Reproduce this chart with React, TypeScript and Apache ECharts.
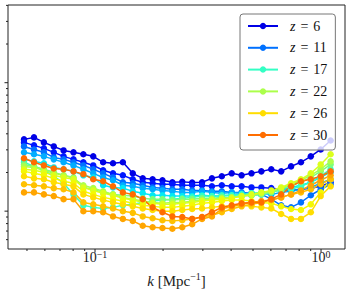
import React, { useEffect, useRef } from "react";
import * as echarts from "echarts";

// wavenumbers k [Mpc^-1]
const kValues = [0.0485, 0.0537, 0.0594, 0.0657, 0.0726, 0.0803, 0.0888, 0.0982, 0.1086, 0.1201, 0.1328, 0.1469, 0.1626, 0.1798, 0.1988, 0.2199, 0.2432, 0.269, 0.2975, 0.329, 0.3639, 0.4025, 0.4452, 0.4924, 0.5445, 0.6022, 0.6661, 0.7367, 0.8147, 0.901, 0.9965, 1.1022];

const redshifts = [6, 8, 11, 13, 15, 17, 20, 22, 24, 25, 26, 27, 28, 30];
const legendRedshifts = [6, 11, 17, 22, 26, 30];

const pZ6 = [3.62, 3.75, 3.43, 3.19, 2.97, 2.87, 2.77, 2.67, 2.4, 2.36, 2.4, 1.97, 1.8, 1.77, 1.74, 1.68, 1.69, 1.67, 1.68, 1.8, 1.87, 1.97, 1.9, 1.97, 2.04, 2.12, 2.04, 2.23, 2.4, 2.67, 3.02, 3.55];
const pZ8 = [3.43, 3.25, 3.08, 2.87, 2.67, 2.53, 2.4, 2.27, 2.08, 1.97, 1.9, 1.77, 1.68, 1.65, 1.62, 1.62, 1.59, 1.59, 1.59, 1.56, 1.59, 1.56, 1.56, 1.53, 1.53, 1.51, 1.48, 1.45, 1.48, 1.51, 1.56, 1.68];
const pZ11 = [3.19, 3.02, 2.87, 2.62, 2.53, 2.4, 2.27, 2.12, 1.97, 1.83, 1.68, 1.65, 1.59, 1.53, 1.51, 1.48, 1.48, 1.45, 1.45, 1.43, 1.43, 1.4, 1.4, 1.38, 1.35, 1.24, 1.11, 1.07, 1.17, 1.33, 1.48, 1.62];
const pZ13 = [2.87, 2.77, 2.67, 2.53, 2.4, 2.27, 2.12, 1.97, 1.83, 1.74, 1.59, 1.56, 1.51, 1.48, 1.45, 1.43, 1.4, 1.4, 1.43, 1.4, 1.38, 1.4, 1.38, 1.35, 1.38, 1.35, 1.4, 1.43, 1.48, 1.53, 1.65, 1.77];
const pZ15 = [2.53, 2.44, 2.36, 2.19, 2.12, 2.04, 1.9, 1.83, 1.59, 1.53, 1.51, 1.43, 1.38, 1.33, 1.33, 1.31, 1.31, 1.31, 1.33, 1.31, 1.31, 1.33, 1.35, 1.33, 1.35, 1.4, 1.48, 1.53, 1.59, 1.68, 1.83, 2.01];
const pZ17 = [2.4, 2.23, 2.08, 1.87, 1.65, 1.35, 1.11, 1.07, 1.05, 1.07, 1.11, 1.13, 1.17, 1.2, 1.22, 1.24, 1.26, 1.28, 1.31, 1.31, 1.33, 1.33, 1.35, 1.38, 1.4, 1.43, 1.45, 1.48, 1.56, 1.68, 1.87, 2.12];
const pZ20 = [2.31, 2.23, 2.12, 2.01, 1.9, 1.83, 1.53, 1.48, 1.4, 1.35, 1.33, 1.31, 1.26, 1.24, 1.24, 1.22, 1.24, 1.24, 1.26, 1.26, 1.28, 1.28, 1.31, 1.33, 1.35, 1.4, 1.48, 1.59, 1.68, 1.83, 2.04, 2.31];
const pZ22 = [2.23, 2.19, 2.08, 1.97, 1.9, 1.8, 1.59, 1.51, 1.43, 1.35, 1.28, 1.24, 1.2, 1.17, 1.15, 1.17, 1.17, 1.2, 1.22, 1.24, 1.26, 1.28, 1.31, 1.33, 1.38, 1.43, 1.51, 1.62, 1.74, 1.9, 2.12, 2.44];
const pZ24 = [2.12, 2.08, 2.01, 1.9, 1.83, 1.77, 1.53, 1.45, 1.38, 1.33, 1.26, 1.22, 1.17, 1.15, 1.13, 1.13, 1.15, 1.17, 1.2, 1.22, 1.24, 1.26, 1.31, 1.35, 1.4, 1.45, 1.53, 1.65, 1.77, 1.97, 2.31, 2.77];
const pZ25 = [2.04, 1.97, 1.9, 1.8, 1.71, 1.65, 1.43, 1.35, 1.28, 1.24, 1.2, 1.15, 1.11, 1.09, 1.07, 1.07, 1.09, 1.11, 1.15, 1.17, 1.2, 1.22, 1.22, 1.2, 1.17, 1.15, 1.09, 1.04, 1.02, 1.13, 1.4, 1.77];
const pZ26 = [1.87, 1.8, 1.77, 1.68, 1.62, 1.56, 1.35, 1.28, 1.22, 1.17, 1.13, 1.09, 1.05, 1.02, 1.0, 1.0, 1.02, 1.04, 1.05, 1.07, 1.09, 1.09, 1.11, 1.09, 1.07, 1.05, 0.95, 0.87, 0.87, 0.98, 1.31, 1.56];
const pZ27 = [1.62, 1.59, 1.56, 1.51, 1.48, 1.4, 1.17, 1.13, 1.09, 1.05, 1.0, 0.97, 0.91, 0.88, 0.85, 0.84, 0.85, 0.87, 0.9, 0.93, 0.98, 1.04, 1.09, 1.13, 1.17, 1.22, 1.28, 1.35, 1.4, 1.48, 1.62, 1.77];
const pZ28 = [1.4, 1.4, 1.35, 1.31, 1.24, 1.24, 1.0, 1.0, 0.98, 0.91, 0.87, 0.84, 0.77, 0.75, 0.74, 0.73, 0.75, 0.79, 0.87, 0.91, 1.04, 1.09, 1.13, 1.17, 1.2, 1.22, 1.28, 1.35, 1.45, 1.59, 1.74, 1.9];
const pZ30 = [2.58, 2.4, 2.27, 2.15, 2.12, 2.04, 1.94, 1.77, 1.71, 1.56, 1.4, 1.35, 1.24, 1.07, 0.98, 0.91, 0.9, 0.87, 0.9, 0.98, 1.07, 1.11, 1.15, 1.17, 1.17, 1.24, 1.35, 1.56, 1.71, 1.77, 1.87, 2.04];

const seriesValues = [pZ6, pZ8, pZ11, pZ13, pZ15, pZ17, pZ20, pZ22, pZ24, pZ25, pZ26, pZ27, pZ28, pZ30];

const X_MIN = 0.04121;
const X_MAX = 1.2764;
const Y_MIN = 0.5074;
const Y_MAX = 40.25;

const xMajorTicks = [0.1, 1];
const xMinorTicks = [0.05, 0.06, 0.07, 0.08, 0.09, 0.2, 0.3, 0.4, 0.5, 0.6, 0.7, 0.8, 0.9];
const yMajorTicks = [1, 10];
const yMinorTicks = [0.6, 0.7, 0.8, 0.9, 2, 3, 4, 5, 6, 7, 8, 9, 20, 30, 40];

const SERIF = "Liberation Serif";

// matplotlib "jet" colormap
const jetR: [number, number][] = [[0, 0], [0.35, 0], [0.66, 1], [0.89, 1], [1, 0.5]];
const jetG: [number, number][] = [[0, 0], [0.125, 0], [0.375, 1], [0.64, 1], [0.91, 0], [1, 0]];
const jetB: [number, number][] = [[0, 0.5], [0.11, 1], [0.34, 1], [0.65, 0], [1, 0]];
function seg(pts: [number, number][], t: number) {
  for (let i = 1; i < pts.length; i++) {
    if (t <= pts[i][0]) {
      const [x0, y0] = pts[i - 1];
      const [x1, y1] = pts[i];
      return y0 + ((t - x0) / (x1 - x0)) * (y1 - y0);
    }
  }
  return pts[pts.length - 1][1];
}
function jet(t: number) {
  const r = Math.round(255 * seg(jetR, t));
  const g = Math.round(255 * seg(jetG, t));
  const b = Math.round(255 * seg(jetB, t));
  return `rgb(${r},${g},${b})`;
}
const zColor = (z: number) => jet((z - 3) / 34);

export default function App() {
  const ref = useRef<HTMLDivElement>(null);
  useEffect(() => {
    document.body.style.margin = "0";
    const chart = echarts.init(ref.current!, null, { renderer: "svg" });
    const series = redshifts.map((z, si) => {
      const c = zColor(z);
      return {
        type: "line",
        name: `z = ${z}`,
        data: kValues.map((k, i) => [k, seriesValues[si][i]]),
        symbol: "circle",
        symbolSize: 6.5,
        showSymbol: true,
        lineStyle: { color: c, width: 1.5 },
        itemStyle: { color: c },
        emphasis: { disabled: true },
        silent: true,
      };
    });
    chart.setOption({
      animation: false,
      grid: {
        left: 8,
        right: 7,
        top: 5,
        bottom: 46,
        show: true,
        borderColor: "#222",
        borderWidth: 1,
        backgroundColor: "transparent",
      },
      xAxis: {
        type: "log",
        logBase: 10,
        min: X_MIN,
        max: X_MAX,
        axisLine: { show: false },
        axisTick: { show: false },
        splitLine: { show: false },
        minorTick: { show: false },
        axisLabel: {
          margin: 0,
          formatter: (v: number) => {
            const e = Math.log10(v);
            if (Math.abs(e - Math.round(e)) > 1e-6) return "";
            const n = Math.round(e);
            return `{b|10}{s|${n < 0 ? "\u2212" + -n : n}}`;
          },
          rich: {
            b: { fontFamily: SERIF, fontSize: 14, color: "#222", lineHeight: 16, verticalAlign: "middle" },
            s: { fontFamily: SERIF, fontSize: 10, color: "#222", lineHeight: 6, verticalAlign: "top" },
          },
        },
        name: "{i|k} [Mpc{s|\u22121}]",
        nameLocation: "middle",
        nameGap: 22,
        nameTextStyle: {
          rich: {
            i: { fontFamily: SERIF, fontStyle: "italic", fontSize: 15, color: "#222", lineHeight: 20, verticalAlign: "middle" },
            s: { fontFamily: SERIF, fontSize: 10, color: "#222", lineHeight: 8, verticalAlign: "top" },
          },
          fontFamily: SERIF,
          fontSize: 15,
          color: "#222",
          lineHeight: 20,
        },
      },
      yAxis: {
        type: "log",
        logBase: 10,
        min: Y_MIN,
        max: Y_MAX,
        axisLine: { show: false },
        axisTick: { show: false },
        axisLabel: { show: false },
        splitLine: { show: false },
        minorTick: { show: false },
      },
      legend: {
        data: legendRedshifts.map((z) => `z = ${z}`),
        orient: "vertical",
        left: 240,
        top: 14,
        padding: [5, 8, 8, 7],
        itemWidth: 30,
        itemHeight: 8,
        itemGap: 7.8,
        backgroundColor: "rgba(255,255,255,0.8)",
        borderColor: "#777",
        borderWidth: 1,
        borderRadius: 3,
        selectedMode: false,
        formatter: (name: string) => `{i|z}{e|=}{n|${name.slice(4)}}`,
        textStyle: {
          fontFamily: SERIF,
          fontSize: 14,
          lineHeight: 14,
          color: "#111",
          rich: {
            i: { fontFamily: SERIF, fontStyle: "italic", fontSize: 14, lineHeight: 14, color: "#111", padding: [0, 0, 0, 7] },
            e: { fontFamily: SERIF, fontSize: 14, lineHeight: 14, color: "#111", padding: [0, 5, 0, 5] },
            n: { fontFamily: SERIF, fontSize: 14, lineHeight: 14, color: "#111" },
          },
        },
      },
      series,
    });

    const xPx = (v: number) => chart.convertToPixel({ xAxisIndex: 0 }, v) as number;
    const yPx = (v: number) => chart.convertToPixel({ yAxisIndex: 0 }, v) as number;
    const bottom = yPx(Y_MIN);
    const left = xPx(X_MIN);
    const tick = (x1: number, y1: number, x2: number, y2: number) => ({
      type: "line",
      silent: true,
      shape: { x1, y1, x2, y2 },
      style: { stroke: "#222", lineWidth: 1 },
    });
    const elements: any[] = [];
    xMajorTicks.forEach((v) => { const p = xPx(v); elements.push(tick(p, bottom, p, bottom + 3.5)); });
    xMinorTicks.forEach((v) => { const p = xPx(v); elements.push(tick(p, bottom, p, bottom + 2)); });
    yMajorTicks.forEach((v) => { const p = yPx(v); elements.push(tick(left, p, left - 3.5, p)); });
    yMinorTicks.forEach((v) => { const p = yPx(v); elements.push(tick(left, p, left - 2, p)); });
    chart.setOption({ graphic: { elements } });

    return () => chart.dispose();
  }, []);
  return <div ref={ref} style={{ width: 352, height: 296 }} />;
}
